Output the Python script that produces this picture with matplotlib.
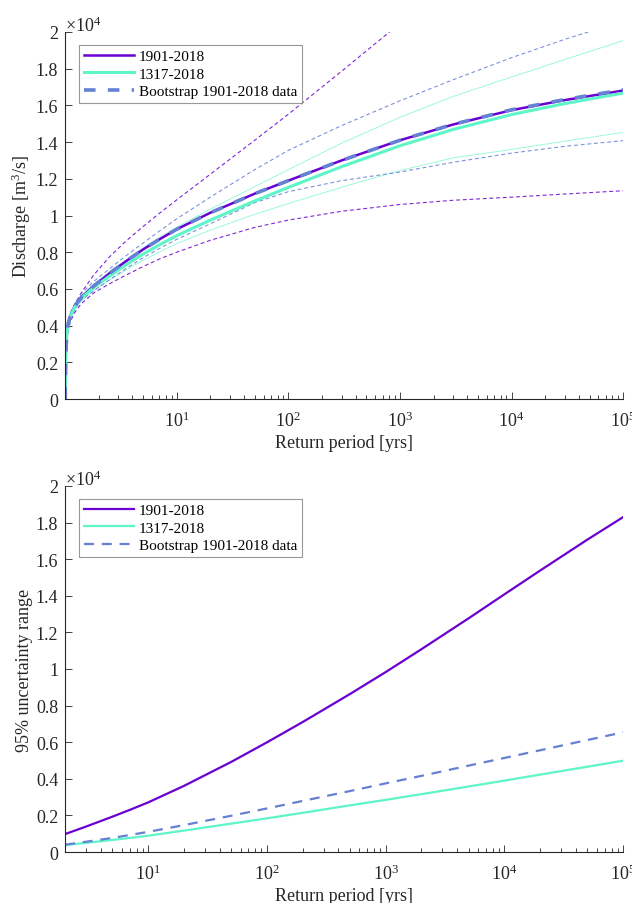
import numpy as np
import matplotlib.pyplot as plt
from matplotlib.ticker import FixedLocator, NullFormatter

plt.rcParams['font.family'] = ['Liberation Serif', 'DejaVu Serif']
plt.rcParams['mathtext.fontset'] = 'custom'
plt.rcParams['mathtext.rm'] = 'Liberation Serif'
plt.rcParams['mathtext.it'] = 'Liberation Serif:italic'
plt.rcParams['mathtext.bf'] = 'Liberation Serif:bold'

# ---- top panel: return levels (x1e4 m3/s) ----
T_top = [1.003, 1.015, 1.035, 1.07, 1.13, 1.23, 1.4, 1.8, 2.5, 3.5, 5, 7, 10,
         20, 50, 100, 300, 1e3, 3e3, 1e4, 3e4, 1e5]

q1901 = [0.0, 0.25, 0.35, 0.415, 0.465, 0.51, 0.555, 0.615, 0.685, 0.75, 0.815, 0.87, 0.925,
         1.015, 1.119, 1.19, 1.30, 1.41, 1.496, 1.574, 1.629, 1.681]
q1901_up = [0.0, 0.25, 0.35, 0.42, 0.47, 0.52, 0.58, 0.675, 0.775, 0.86, 0.94, 1.012, 1.085,
            1.225, 1.41, 1.552, 1.786, 2.047, 2.285, 2.535, 2.755, 2.99]
q1901_lo = [0.0, 0.24, 0.33, 0.385, 0.43, 0.475, 0.52, 0.578, 0.628, 0.675, 0.722, 0.763, 0.80,
            0.865, 0.935, 0.975, 1.023, 1.06, 1.083, 1.10, 1.117, 1.135]

q1317 = [0.0, 0.25, 0.35, 0.41, 0.46, 0.505, 0.55, 0.607, 0.67, 0.73, 0.79, 0.84, 0.89,
         0.975, 1.079, 1.153, 1.266, 1.38, 1.469, 1.55, 1.61, 1.667]
q1317_up = [0.0, 0.25, 0.35, 0.42, 0.471, 0.518, 0.565, 0.625, 0.693, 0.758, 0.824, 0.88, 0.936,
            1.035, 1.157, 1.25, 1.394, 1.535, 1.649, 1.755, 1.85, 1.953]
q1317_lo = [0.0, 0.245, 0.345, 0.40, 0.449, 0.493, 0.535, 0.59, 0.648, 0.703, 0.756, 0.802, 0.847,
            0.92, 1.007, 1.065, 1.154, 1.245, 1.314, 1.36, 1.405, 1.453]

qboot = [0.0, 0.25, 0.35, 0.415, 0.465, 0.51, 0.555, 0.615, 0.685, 0.75, 0.815, 0.87, 0.925,
         1.015, 1.119, 1.19, 1.30, 1.41, 1.497, 1.576, 1.632, 1.685]
qboot_up = [0.0, 0.25, 0.35, 0.42, 0.475, 0.525, 0.575, 0.64, 0.71, 0.78, 0.85, 0.915, 0.982,
            1.10, 1.25, 1.355, 1.49, 1.625, 1.74, 1.86, 1.96, 2.06]
qboot_lo = [0.0, 0.24, 0.34, 0.39, 0.44, 0.49, 0.54, 0.59, 0.65, 0.71, 0.77, 0.82, 0.87,
            0.955, 1.07, 1.13, 1.19, 1.237, 1.29, 1.34, 1.377, 1.408]

# ---- bottom panel: width of 95% interval (x1e4 m3/s) ----
T_bot = [2, 3, 5, 7, 10, 20, 50, 100, 200, 500, 1e3, 2e3, 5e3, 1e4, 2e4, 5e4, 1e5]
w1901 = [0.098, 0.139, 0.193, 0.23, 0.271, 0.361, 0.492, 0.599, 0.71, 0.863, 0.983, 1.108,
         1.277, 1.408, 1.538, 1.707, 1.83]
w1317 = [0.038, 0.05, 0.066, 0.077, 0.089, 0.117, 0.155, 0.184, 0.214, 0.255, 0.285, 0.316,
         0.358, 0.39, 0.423, 0.466, 0.499]
wboot = [0.04, 0.056, 0.077, 0.093, 0.11, 0.147, 0.198, 0.238, 0.279, 0.333, 0.375, 0.416,
         0.472, 0.514, 0.556, 0.612, 0.654]

yticks = [0, 0.2, 0.4, 0.6, 0.8, 1, 1.2, 1.4, 1.6, 1.8, 2]
labels = ['1901-2018', '1317-2018', 'Bootstrap 1901-2018 data']

c1901 = '#6a00d2'
c1317 = '#5ef5c8'
cboot = '#6680d4'
axcol = '#262626'


def style_axis(ax, xmin, ylabel):
    ax.set_xscale('log')
    ax.set_xlim(xmin, 1e5)
    ax.set_ylim(0, 2)
    ax.xaxis.set_major_locator(FixedLocator([10, 100, 1e3, 1e4, 1e5]))
    minors = [m * 10 ** d for d in range(0, 5) for m in range(2, 10)]
    ax.xaxis.set_minor_locator(FixedLocator([v for v in minors if v > xmin]))
    ax.xaxis.set_minor_formatter(NullFormatter())
    ax.set_xticklabels([r'$10^{%d}$' % k for k in range(1, 6)])
    ax.set_yticks(yticks)
    ax.set_yticklabels(['%g' % v for v in yticks])
    for s in ['top', 'right']:
        ax.spines[s].set_visible(False)
    for s in ['left', 'bottom']:
        ax.spines[s].set_color(axcol)
        ax.spines[s].set_linewidth(0.8)
    ax.tick_params(which='both', direction='in', colors=axcol, labelcolor='#262626',
                   labelsize=13, width=0.6)
    ax.tick_params(which='major', length=5, pad=8)
    ax.tick_params(which='minor', length=2.8)
    ax.tick_params(axis='y', pad=5)
    ax.set_xlabel('Return period [yrs]', fontsize=13, color='#262626', labelpad=3)
    ax.set_ylabel(ylabel, fontsize=13, color='#262626', labelpad=2)
    ax.text(0.0, 0.993, r'$\times10^{4}$', transform=ax.transAxes, ha='left', va='bottom',
            fontsize=13, color='#262626')


fig = plt.figure(figsize=(6.32, 9.04), dpi=100)
ax1 = fig.add_axes([0.103, 0.5575, 0.883, 0.406])
ax2 = fig.add_axes([0.103, 0.0564, 0.883, 0.4049])

# thin interval bounds
ax1.plot(T_top, q1901_up, color=c1901, lw=0.8, dashes=(3.5, 2.5), alpha=0.85)
ax1.plot(T_top, q1901_lo, color=c1901, lw=0.8, dashes=(3.5, 2.5), alpha=0.85)
ax1.plot(T_top, q1317_up, color=c1317, lw=0.6, alpha=0.7)
ax1.plot(T_top, q1317_lo, color=c1317, lw=0.6, alpha=0.7)
ax1.plot(T_top, qboot_up, color=cboot, lw=0.8, dashes=(3.5, 2.5), alpha=0.85)
ax1.plot(T_top, qboot_lo, color=cboot, lw=0.8, dashes=(3.5, 2.5), alpha=0.85)
# central estimates
ax1.plot(T_top, q1901, color=c1901, lw=1.8, label=labels[0])
ax1.plot(T_top, q1317, color=c1317, lw=2.2, label=labels[1])
ax1.plot(T_top, qboot, color=cboot, lw=2.6, dashes=(3.2, 3.4), label=labels[2])
style_axis(ax1, 1.0, 'Discharge [m$^3$/s]')

ax2.plot(T_bot, w1901, color=c1901, lw=1.6, label=labels[0])
ax2.plot(T_bot, w1317, color=c1317, lw=1.6, label=labels[1])
ax2.plot(T_bot, wboot, color=cboot, lw=1.6, dashes=(4.5, 3.5), label=labels[2])
style_axis(ax2, 2.0, '95% uncertainty range')

for ax in (ax1, ax2):
    leg = ax.legend(loc='upper left', bbox_to_anchor=(0.025, 0.965), borderaxespad=0,
                    fontsize=11, frameon=True, fancybox=False, handlelength=3.3,
                    handletextpad=0.3, borderpad=0.3, labelspacing=0.25)
    leg.get_frame().set_edgecolor('#7f7f7f')
    leg.get_frame().set_linewidth(0.8)

fig.savefig('out.png', dpi=100)
